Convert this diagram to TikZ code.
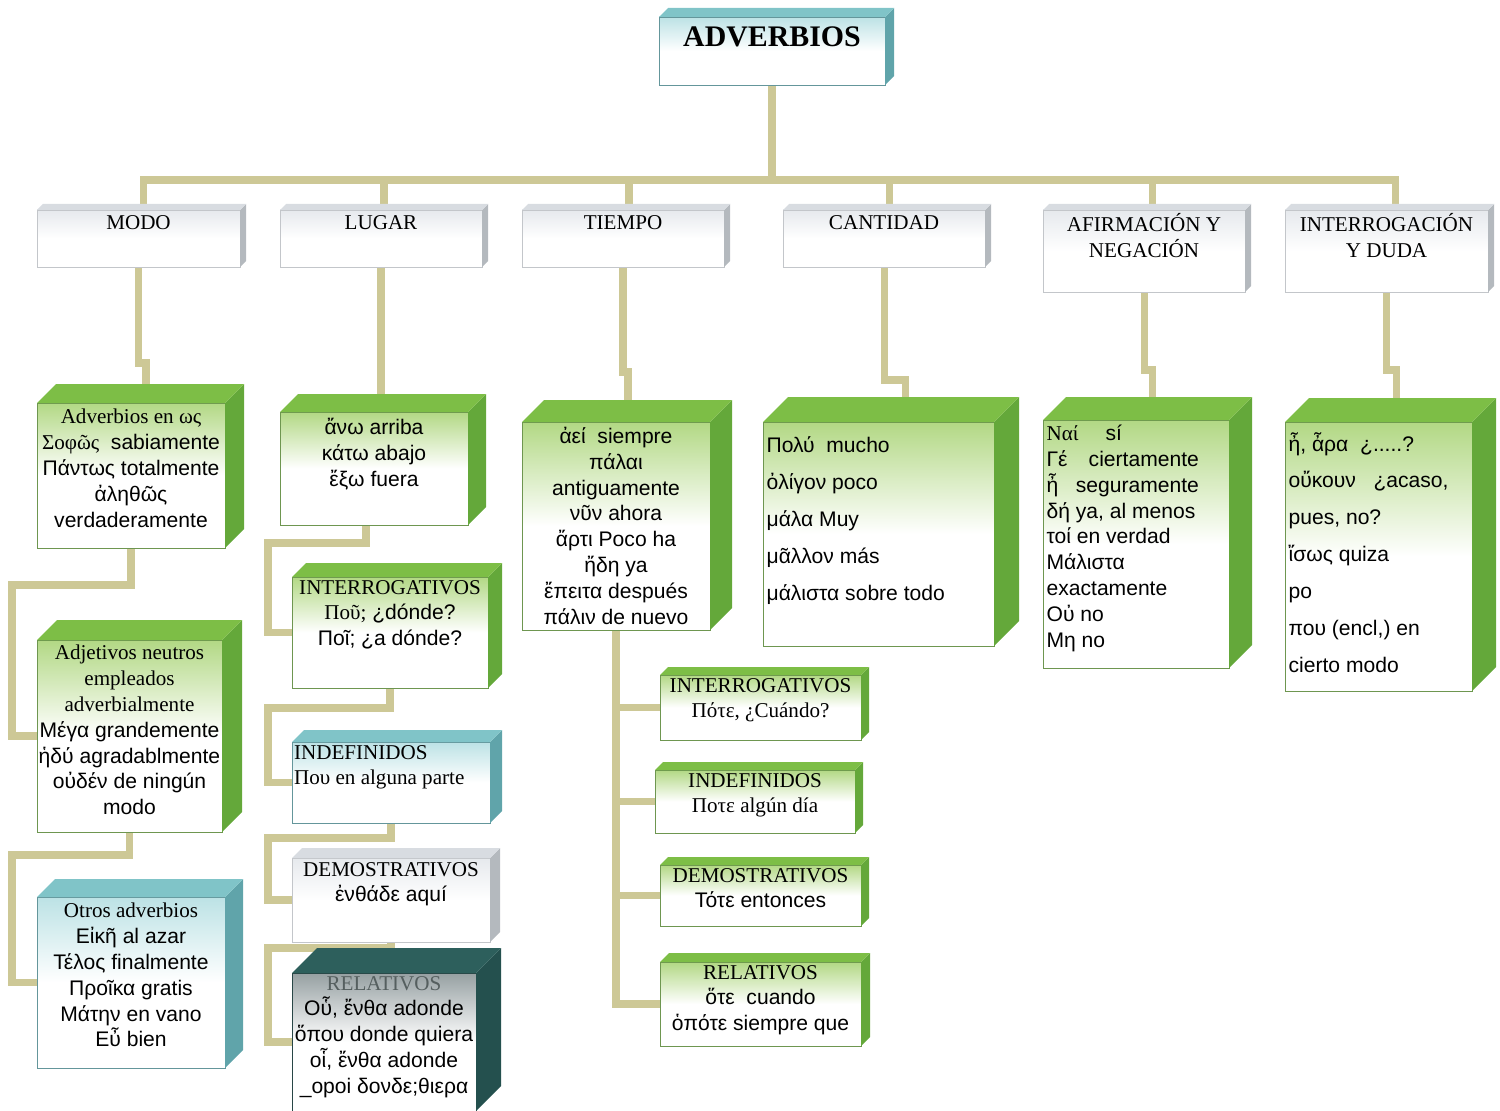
\documentclass[tikz,border=0pt]{standalone}
\usepackage{fontspec}
\setmainfont{Liberation Serif}
\setsansfont{Liberation Sans}
\usepackage{xcolor}
\usetikzlibrary{positioning, calc, backgrounds}

\definecolor{linea}{RGB}{205,200,150}
\definecolor{verdetecho}{RGB}{125,190,70}
\definecolor{verdelado}{RGB}{100,168,58}
\definecolor{verdecara}{RGB}{178,216,132}
\definecolor{verdeborde}{RGB}{110,150,80}
\definecolor{azultecho}{RGB}{128,196,200}
\definecolor{azullado}{RGB}{96,164,170}
\definecolor{azulcara}{RGB}{188,226,229}
\definecolor{azulborde}{RGB}{100,150,155}
\definecolor{platatecho}{RGB}{216,220,225}
\definecolor{platalado}{RGB}{180,185,190}
\definecolor{platacara}{RGB}{230,233,237}
\definecolor{plataborde}{RGB}{195,198,202}
\definecolor{oscurotecho}{RGB}{45,95,92}
\definecolor{oscurolado}{RGB}{36,80,78}
\definecolor{oscurocara}{RGB}{150,160,162}
\definecolor{oscuroborde}{RGB}{40,70,70}
\definecolor{gristxt}{RGB}{85,95,95}

\tikzset{
  conector/.style={draw=linea, line width=4pt},
  frente/.style={inner sep=0pt, outer sep=0pt, line width=0.5pt},
  verde frente/.style={top color=verdecara, bottom color=white, middle color=white, draw=verdeborde},
  verde techo/.style={fill=verdetecho},
  verde lado/.style={fill=verdelado},
  azul frente/.style={top color=azulcara, bottom color=white, middle color=white, draw=azulborde},
  azul techo/.style={fill=azultecho},
  azul lado/.style={fill=azullado},
  plata frente/.style={top color=platacara, bottom color=white, middle color=white, draw=plataborde},
  plata techo/.style={fill=platatecho},
  plata lado/.style={fill=platalado},
  oscuro frente/.style={top color=oscurocara, bottom color=white, middle color=white, draw=oscuroborde},
  oscuro techo/.style={fill=oscurotecho},
  oscuro lado/.style={fill=oscurolado},
  titulo/.style={font=\bfseries\fontsize{17}{20}\selectfont, inner sep=1pt},
  categoria/.style={font=\fontsize{12}{14.7}\selectfont, align=center, inner sep=1pt},
  txt/.style={font=\sffamily\fontsize{12}{14.7}\selectfont, align=center, inner sep=1pt},
  txtizq/.style={txt, align=left},
}

% caja 3D: nombre, x1, y1, x2, y2, fondo, esquema
\newcommand{\caja}[7]{%
  \node[frente, #7 frente, anchor=north west,
        minimum width={(#4-#2)*0.02cm}, minimum height={(#5-#3)*0.02cm}] (#1) at (#2,#3) {};
  \fill[#7 lado] (#1.north east) -- ++(#6,-#6) -- ++(0,#5-#3) -- (#1.south east) -- cycle;
  \fill[#7 techo] (#1.north west) -- ++(#6,-#6) -- ++(#4-#2,0) -- (#1.north east) -- cycle;
}

\begin{document}
\begin{tikzpicture}[x=0.02cm, y=-0.02cm]
  \useasboundingbox (0,0) rectangle (1500,1111);

  % raiz
  \caja{adv}{659}{17}{885}{85}{9}{azul}
  \node[titulo, below=0.16cm of adv.north] (adv-t) {ADVERBIOS};

  % categorias
  \caja{modo}{37}{210}{240}{267}{6}{plata}
  \caja{lug}{280}{210}{482}{267}{6}{plata}
  \caja{tie}{522}{210}{724}{267}{6}{plata}
  \caja{can}{783}{210}{985}{267}{6}{plata}
  \caja{afi}{1043}{210}{1245}{292}{6}{plata}
  \caja{int}{1285}{210}{1488}{292}{6}{plata}
  \node[categoria, below=0.07cm of modo.north] (modo-t) {MODO};
  \node[categoria, below=0.07cm of lug.north] (lug-t) {LUGAR};
  \node[categoria, below=0.07cm of tie.north] (tie-t) {TIEMPO};
  \node[categoria, below=0.07cm of can.north] (can-t) {CANTIDAD};
  \node[categoria, below=0.02cm of afi.north] (afi-t) {AFIRMACIÓN Y\\NEGACIÓN};
  \node[categoria, below=0.02cm of int.north] (int-t) {INTERROGACIÓN\\Y DUDA};

  % modo
  \caja{m1}{37}{403}{225}{548}{19}{verde}
  \caja{m2}{37}{640}{222}{832}{20}{verde}
  \caja{m3}{37}{897}{225}{1068}{18}{azul}
  \node[txt, below=0.08cm of m1.north] (m1-t)
    {{\rmfamily Adverbios en ως}\\{\rmfamily Σοφῶς}\ \ sabiamente\\Πάντως totalmente\\ἀληθῶς\\verdaderamente};
  \node[txt, below=0.06cm of m2.north] (m2-t)
    {{\rmfamily Adjetivos neutros}\\{\rmfamily empleados}\\{\rmfamily adverbialmente}\\Μέγα grandemente\\ἡδύ agradablmente\\οὐδέν de ningún\\modo};
  \node[txt, below=0.08cm of m3.north] (m3-t)
    {{\rmfamily Otros adverbios}\\Εἰκῆ al azar\\Τέλος finalmente\\Προῖκα gratis\\Μάτην en vano\\Εὖ bien};

  % lugar
  \caja{l1}{280}{412}{468}{525}{18}{verde}
  \caja{l2}{292}{577}{488}{688}{14}{verde}
  \caja{l3}{292}{742}{490}{823}{12}{azul}
  \caja{l4}{292}{858}{490}{942}{10}{plata}
  \caja{l5}{292}{973}{476}{1111}{25}{oscuro}
  \node[txt, below=0.08cm of l1.north] (l1-t) {ἄνω arriba\\κάτω abajo\\ἔξω fuera};
  \node[txt, below=0.02cm of l2.north] (l2-t)
    {{\rmfamily INTERROGATIVOS}\\{\rmfamily Ποῦ;} ¿dónde?\\Ποῖ; ¿a dónde?};
  \node[txt, align=left, font=\fontsize{12}{14.7}\selectfont, below right=0.02cm and 0cm of l3.north west] (l3-t)
    {INDEFINIDOS\\Που en alguna parte};
  \node[txt, below=0.04cm of l4.north] (l4-t) {{\rmfamily DEMOSTRATIVOS}\\ἐνθάδε aquí};
  \node[txt, below=0.02cm of l5.north] (l5-t)
    {{\rmfamily\color{gristxt}RELATIVOS}\\Οὗ, ἔνθα adonde\\ὅπου donde quiera\\οἷ, ἔνθα adonde\\\_opoi δονδε;θιερα};

  % tiempo
  \caja{t1}{522}{422}{710}{630}{22}{verde}
  \caja{t2}{660}{675}{861}{740}{8}{verde}
  \caja{t3}{655}{770}{855}{833}{8}{verde}
  \caja{t4}{660}{865}{861}{926}{8}{verde}
  \caja{t5}{660}{962}{861}{1046}{9}{verde}
  \node[txt, below=0.06cm of t1.north] (t1-t)
    {ἀεί\ \ siempre\\πάλαι\\antiguamente\\νῦν ahora\\ἄρτι Poco ha\\ἤδη ya\\ἔπειτα después\\πάλιν de nuevo};
  \node[txt, below=0.02cm of t2.north] (t2-t) {{\rmfamily INTERROGATIVOS}\\{\rmfamily Πότε, ¿Cuándo?}};
  \node[txt, below=0.02cm of t3.north] (t3-t) {{\rmfamily INDEFINIDOS}\\{\rmfamily Ποτε algún día}};
  \node[txt, below=0.02cm of t4.north] (t4-t) {{\rmfamily DEMOSTRATIVOS}\\Τότε entonces};
  \node[txt, below=0.02cm of t5.north] (t5-t) {{\rmfamily RELATIVOS}\\ὅτε\ \ cuando\\ὁπότε siempre que};

  % cantidad
  \caja{c1}{763}{422}{994}{646}{25}{verde}
  \node[txt, align=left, font=\sffamily\fontsize{12}{21}\selectfont, below right=0.26cm and 0.03cm of c1.north west] (c1-t)
    {Πολύ\ \ mucho\\ὀλίγον poco\\μάλα Muy\\μᾶλλον más\\μάλιστα sobre todo};

  % afirmacion y negacion
  \caja{a1}{1043}{420}{1229}{668}{23}{verde}
  \node[txtizq, below right=0.06cm and 0.03cm of a1.north west] (a1-t)
    {{\rmfamily Ναί}\quad\ sí\\Γέ\quad ciertamente\\ἦ\ \ \ seguramente\\δή ya, al menos\\τοί en verdad\\Μάλιστα\\exactamente\\Οὐ no\\Μη no};

  % interrogacion y duda
  \caja{i1}{1285}{422}{1472}{691}{24}{verde}
  \node[txt, align=left, font=\sffamily\fontsize{12}{21}\selectfont, below right=0.16cm and 0.03cm of i1.north west] (i1-t)
    {ἦ, ἆρα\ \ ¿.....?\\οὔκουν\ \ \ ¿acaso,\\pues, no?\\ἴσως quiza\\po\\που (encl,) en\\cierto modo};

  % conectores
  \begin{scope}[on background layer]
    \foreach \c/\dx in {modo/5, lug/3, tie/6, can/5, afi/8, int/9}
      \draw[conector] (adv.south) -- ++(0,95) -| ($(\c.north)+(\dx,0)$);

    \draw[conector] (modo.south) |- ($(m1.north)+(15,-40)$) -- ($(m1.north)+(15,0)$);
    \draw[conector] (lug.south) -- (lug.south |- l1.north);
    \draw[conector] (tie.south) |- ($(t1.north)+(12,-50)$) -- ($(t1.north)+(12,0)$);
    \draw[conector] (can.south) |- ($(c1.north)+(27,-42)$) -- ($(c1.north)+(27,0)$);
    \draw[conector] (afi.south) |- ($(a1.north)+(16,-50)$) -- ($(a1.north)+(16,0)$);
    \draw[conector] (int.south) |- ($(i1.north)+(18,-52)$) -- ($(i1.north)+(18,0)$);

    \draw[conector] (m1.south) -- ++(0,37) -| ($(m2.west)+(-25,0)$) -- (m2.west);
    \draw[conector] (m2.south) -- ++(0,23) -| ($(m3.west)+(-25,0)$) -- (m3.west);

    \draw[conector] ($(l1.south)+(-8,0)$) -- ++(0,18) -| ($(l2.west)+(-24,0)$) -- (l2.west);
    \draw[conector] (l2.south) -- ++(0,20) -| ($(l3.west)+(-24,0)$) -- (l3.west);
    \draw[conector] (l3.south) -- ++(0,15) -| ($(l4.west)+(-24,0)$) -- (l4.west);
    \draw[conector] (l4.south) -- ++(0,6) -| ($(l5.west)+(-24,0)$) -- (l5.west);

    \foreach \h in {t2,t3,t4,t5}
      \draw[conector] (t1.south) |- (\h.west);
  \end{scope}
\end{tikzpicture}
\end{document}
